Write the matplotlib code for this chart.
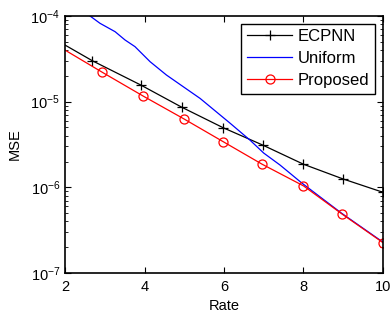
import matplotlib
matplotlib.use("Agg")
import matplotlib.pyplot as plt
from matplotlib.ticker import FixedLocator, FixedFormatter, LogLocator, NullFormatter

plt.rcParams['font.family'] = ['Liberation Sans', 'DejaVu Sans']
plt.rcParams['mathtext.fontset'] = 'custom'
plt.rcParams['mathtext.rm'] = 'Liberation Sans'
plt.rcParams['mathtext.it'] = 'Liberation Sans'

# ---- data ----
ecpnn_rate = [2.0, 2.69, 3.9, 4.94, 5.98, 6.97, 8.0, 9.0, 10.0]
ecpnn_mse = [4.58e-5, 3.0e-5, 1.57e-5, 8.6e-6, 4.96e-6, 3.12e-6, 1.86e-6, 1.25e-6, 8.75e-7]

uniform_rate = [2.63, 2.88, 3.26, 3.51, 3.76, 4.14, 4.55, 4.97, 5.40, 6.15,
                6.65, 7.0, 7.41, 7.66, 7.95, 8.96, 10.0]
uniform_mse = [1.0e-4, 8.22e-5, 6.56e-5, 5.25e-5, 4.39e-5, 2.93e-5, 2.05e-5,
               1.50e-5, 1.09e-5, 5.62e-6, 3.57e-6, 2.51e-6, 1.82e-6, 1.46e-6,
               1.13e-6, 4.98e-7, 2.29e-7]

proposed_rate = [2.0, 2.94, 3.97, 4.99, 5.98, 6.96, 8.0, 8.98, 10.0]
proposed_mse = [4.0e-5, 2.2e-5, 1.16e-5, 6.3e-6, 3.41e-6, 1.86e-6, 1.04e-6, 4.84e-7, 2.26e-7]

xticks = [2, 4, 6, 8, 10]
xticklabels = ['2', '4', '6', '8', '10']
yticks = [1e-7, 1e-6, 1e-5, 1e-4]
yticklabels = [r'$\mathregular{10^{-7}}$', r'$\mathregular{10^{-6}}$',
               r'$\mathregular{10^{-5}}$', r'$\mathregular{10^{-4}}$']

fig = plt.figure(figsize=(3.92, 3.22), dpi=100)
ax = fig.add_axes([65/392, 1-273/322, (383-65)/392, (273-16)/322])

ax.plot(ecpnn_rate, ecpnn_mse, color='black', lw=0.9, marker='+', ms=7,
        mew=0.9, markevery=slice(1, None), label='ECPNN')
ax.plot(uniform_rate, uniform_mse, color='blue', lw=0.9, label='Uniform')
ax.plot(proposed_rate, proposed_mse, color='red', lw=0.9, marker='o', ms=6.5,
        mfc='none', mew=0.9, markevery=slice(1, None), label='Proposed')

ax.set_yscale('log')
ax.set_xlim(2, 10)
ax.set_ylim(1e-7, 1e-4)
ax.xaxis.set_major_locator(FixedLocator(xticks))
ax.xaxis.set_major_formatter(FixedFormatter(xticklabels))
ax.yaxis.set_major_locator(FixedLocator(yticks))
ax.yaxis.set_major_formatter(FixedFormatter(yticklabels))
ax.yaxis.set_minor_locator(LogLocator(base=10, subs=range(2, 10)))
ax.yaxis.set_minor_formatter(NullFormatter())

ax.tick_params(which='both', direction='in', top=True, right=True, labelsize=10.5)
ax.tick_params(which='major', length=4, width=0.8)
ax.tick_params(which='minor', length=2, width=0.6)
ax.tick_params(axis='x', pad=5)
for s in ax.spines.values():
    s.set_linewidth(1.2)

ax.set_xlabel('Rate', fontsize=10.5, labelpad=4)
ax.set_ylabel('MSE', fontsize=10.5, labelpad=6)

leg = ax.legend(loc='upper right', fontsize=12, fancybox=False, framealpha=1,
                edgecolor='black', borderaxespad=0.45, handlelength=2.7,
                handletextpad=0.35, labelspacing=0.42, borderpad=0.35)
leg.get_frame().set_linewidth(1.0)

fig.savefig('out.png', dpi=100)
